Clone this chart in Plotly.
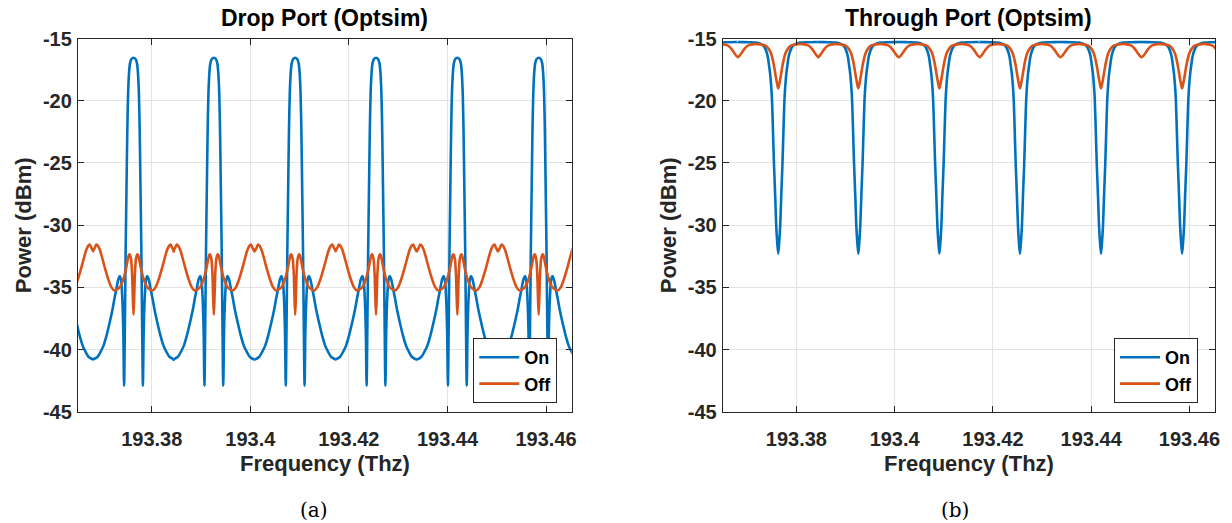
import numpy as np
import plotly.graph_objects as go

# ---------------- data ----------------
# resonance centres (THz); first/last entries are the off-screen neighbours
resonance_centers_thz = [193.3599, 193.3763, 193.3926, 193.4091, 193.4255,
                         193.4420, 193.4585, 193.4749]

# Drop port, "On": half-period profile, offset from resonance (GHz) -> dBm
drop_on_offset_ghz = [0, 0.41, 0.71, 0.91, 1.10, 1.26, 1.42, 1.59, 1.75, 1.91,
                      2.07, 2.28, 2.50, 2.74, 3.05, 3.46, 3.86, 4.27, 4.88,
                      5.49, 6.10, 6.71, 7.32, 8.22]
drop_on_dbm = [-16.55, -16.65, -17.0, -17.8, -19.5, -22.5, -27.0, -32.0, -38.0,
               -42.9, -38.5, -35.8, -34.5, -34.1, -34.3, -35.1, -35.9, -36.8,
               -37.9, -38.9, -39.7, -40.2, -40.6, -40.8]

# Drop port, "Off"
drop_off_offset_ghz = [0, 0.14, 0.30, 0.51, 0.77, 0.93, 1.18, 1.52, 2.03, 2.64,
                       3.25, 3.86, 4.47, 5.08, 5.69, 6.30, 6.81, 7.22, 7.52,
                       7.83, 8.22]
drop_off_dbm = [-37.2, -35.8, -33.8, -32.7, -32.35, -32.4, -32.8, -33.5, -34.3,
                -34.9, -35.15, -35.25, -35.0, -34.4, -33.6, -32.7, -32.0,
                -31.65, -31.55, -31.8, -32.1]

# Through port, "On"
thru_on_offset_ghz = [0, 0.20, 0.41, 0.61, 0.87, 1.06, 1.26, 1.42, 1.63, 1.89,
                      2.13, 2.44, 2.85, 3.46, 4.47, 6.10, 8.22]
thru_on_dbm = [-32.3, -31.4, -30.0, -27.7, -25.0, -22.5, -20.0, -18.9, -17.9,
               -17.1, -16.45, -16.0, -15.65, -15.45, -15.33, -15.3, -15.28]

# Through port, "Off"
thru_off_offset_ghz = [0, 0.20, 0.39, 0.59, 0.77, 1.06, 1.42, 1.83, 2.44, 3.25,
                       4.07, 4.88, 5.69, 6.30, 6.91, 7.52, 7.93, 8.22]
thru_off_dbm = [-19.0, -18.7, -18.3, -17.85, -17.4, -16.8, -16.25, -15.9, -15.6,
                -15.5, -15.45, -15.45, -15.5, -15.6, -15.85, -16.2, -16.42, -16.5]

x_tick_vals = [193.38, 193.40, 193.42, 193.44, 193.46]
x_tick_text = ["193.38", "193.4", "193.42", "193.44", "193.46"]
y_tick_vals = [-45, -40, -35, -30, -25, -20, -15]
y_tick_text = ["-45", "-40", "-35", "-30", "-25", "-20", "-15"]

series_names = ["On", "Off"]
# -------------------------------------------------------------


def build(offsets_ghz, values, centers):
    off = np.asarray(offsets_ghz) / 1000.0
    v = np.asarray(values)
    full_off = np.concatenate([-off[:0:-1], off])
    full_v = np.concatenate([v[:0:-1], v])
    xs = np.concatenate([c + full_off for c in centers])
    ys = np.concatenate([full_v for _ in centers])
    return xs, ys


BLUE = "#0072BD"
ORANGE = "#D95319"
AX = "#262626"
FONT = "Liberation Sans"
W, H = 1232, 523

fig = go.Figure()

for (offs, vals, name, col, xa, ya, lg) in [
    (drop_on_offset_ghz, drop_on_dbm, series_names[0], BLUE, "x", "y", "legend"),
    (drop_off_offset_ghz, drop_off_dbm, series_names[1], ORANGE, "x", "y", "legend"),
    (thru_on_offset_ghz, thru_on_dbm, series_names[0], BLUE, "x2", "y2", "legend2"),
    (thru_off_offset_ghz, thru_off_dbm, series_names[1], ORANGE, "x2", "y2", "legend2"),
]:
    xs, ys = build(offs, vals, resonance_centers_thz)
    fig.add_trace(go.Scatter(x=xs, y=ys, mode="lines", name=name,
                             line=dict(color=col, width=2.6, shape="spline",
                                       smoothing=0.8),
                             xaxis=xa, yaxis=ya, legend=lg))

# plot-area pixel boxes
L1, R1 = 77.8, 571.7
L2, R2 = 722.7, 1215.0
TOP, BOT = 38.5, 411.8

common_axis = dict(showgrid=True, gridcolor="#e3e3e3", gridwidth=1,
                   showline=True, linecolor=AX, linewidth=1, mirror="ticks",
                   ticks="inside", ticklen=6, tickcolor=AX, tickwidth=1,
                   zeroline=False, automargin=False,
                   tickfont=dict(family=FONT, size=20, color=AX, weight="bold"))

xcommon = dict(common_axis, range=[193.365, 193.4652], tickvals=x_tick_vals,
               ticktext=x_tick_text, ticklabelstandoff=9)
ycommon = dict(common_axis, range=[-45, -15], tickvals=y_tick_vals,
               ticktext=y_tick_text, ticklabelstandoff=1)

legend_style = dict(xanchor="right", yanchor="bottom",
                    bgcolor="white", bordercolor=AX, borderwidth=1,
                    font=dict(family=FONT, size=18, color="black", weight="bold"),
                    tracegroupgap=0, itemwidth=40)

fig.update_layout(
    template="none",
    width=W, height=H, autosize=False,
    margin=dict(l=0, r=0, t=0, b=0, pad=0, autoexpand=False),
    paper_bgcolor="white", plot_bgcolor="white",
    xaxis=dict(xcommon, domain=[L1 / W, R1 / W], anchor="y"),
    yaxis=dict(ycommon, domain=[1 - BOT / H, 1 - TOP / H], anchor="x"),
    xaxis2=dict(xcommon, domain=[L2 / W, R2 / W], anchor="y2"),
    yaxis2=dict(ycommon, domain=[1 - BOT / H, 1 - TOP / H], anchor="x2"),
    legend=dict(legend_style, x=557.3 / W, y=1 - 403 / H),
    legend2=dict(legend_style, x=1198 / W, y=1 - 403 / H),
    showlegend=True,
)


def ann(text, x, y, size, family=FONT, bold=True, angle=0, color="black"):
    fig.add_annotation(text=text, x=x / W, y=1 - y / H, xref="paper", yref="paper",
                       showarrow=False, xanchor="center", yanchor="middle",
                       textangle=angle,
                       font=dict(family=family, size=size, color=color,
                                 weight="bold" if bold else "normal"))


ann("Drop Port (Optsim)", (L1 + R1) / 2, 18, 23)
ann("Through Port (Optsim)", (L2 + R2) / 2, 18, 23)
ann("Frequency (Thz)", (L1 + R1) / 2, 463, 22, color=AX)
ann("Frequency (Thz)", (L2 + R2) / 2, 463, 22, color=AX)
ann("Power (dBm)", 23, (TOP + BOT) / 2, 22, angle=-90, color=AX)
ann("Power (dBm)", 668, (TOP + BOT) / 2, 22, angle=-90, color=AX)
ann("(a)", 314, 510, 20, family="DejaVu Serif", bold=False)
ann("(b)", 955, 510, 20, family="DejaVu Serif", bold=False)

fig.write_html("out.html",
               post_script="document.body.style.margin='0';"
                           "document.documentElement.style.overflow='hidden';"
                           "document.body.style.overflow='hidden';")
